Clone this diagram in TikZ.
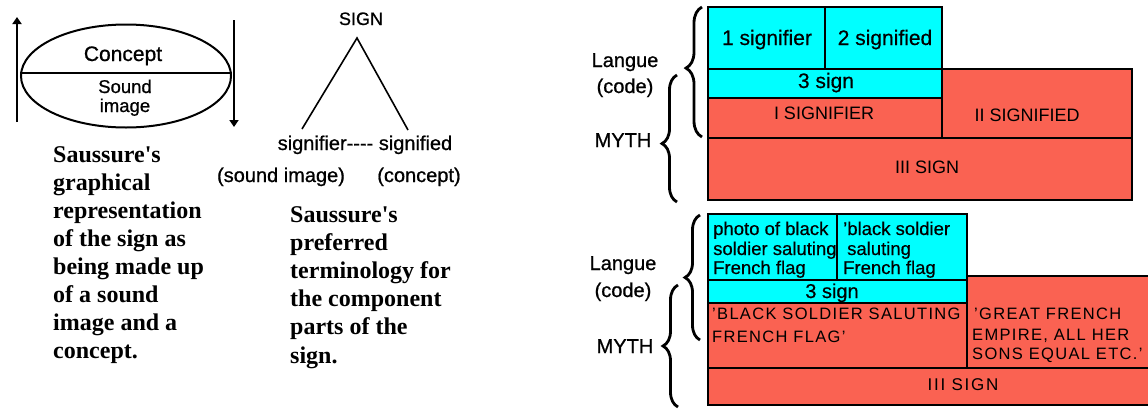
\documentclass[tikz,border=0pt]{standalone}
\usepackage{fontspec}
\setmainfont{Liberation Sans}
\newfontfamily\capfont{Liberation Serif}
\usetikzlibrary{decorations.pathreplacing,arrows.meta,shapes.geometric}
\definecolor{cy}{RGB}{0,255,255}
\definecolor{rd}{RGB}{250,98,82}
\begin{document}
\begin{tikzpicture}[x=1pt,y=-1pt,
  lbl/.style={inner sep=0pt,anchor=base,font=\fontsize{20}{22}\addfontfeature{FakeBold=0.8}\selectfont},
  lblw/.style={inner sep=0pt,anchor=base west,font=\fontsize{18.5}{20}\addfontfeature{FakeBold=0.5}\selectfont},
  uptxt/.style={inner sep=0pt,anchor=base west,font=\fontsize{16.5}{20}\addfontfeature{LetterSpace=8}\selectfont},
  captxt/.style={inner sep=0pt,anchor=base west,font=\capfont\bfseries\fontsize{24}{28}\selectfont},
  cellline/.style={draw=black,line width=2.5pt},
  arr/.style={line width=2pt,-{Triangle[width=9pt,length=7pt]}},
  brc/.style={line width=2.8pt,decorate},
]
\useasboundingbox (0,0) rectangle (1148,410);

% ---------- ellipse diagram ----------
\node[draw,ellipse,line width=2pt,minimum width=210pt,minimum height=103pt,inner sep=0pt] (ell) at (126,76) {};
\draw[line width=2pt] (ell.west |- 0,73) -- (ell.east |- 0,73);
\node[lbl,font=\fontsize{21}{22}\addfontfeature{FakeBold=0.8}\selectfont] (concept) at (123,61) {Concept};
\node[lbl,font=\fontsize{18.5}{22}\addfontfeature{FakeBold=0.8}\selectfont] (sound) at (125,93) {Sound};
\node[lbl,font=\fontsize{18.5}{22}\addfontfeature{FakeBold=0.8}\selectfont] (image) at (125,112) {image};
\coordinate (ua) at (17,122); \coordinate (ub) at (17,17);
\coordinate (da) at (234,20); \coordinate (db) at (234,127);
\draw[arr] (ua) -- (ub);
\draw[arr] (da) -- (db);

\foreach \t [count=\i] in {Saussure's,graphical,representation,of the sign as,being made up,of a sound,image and a,concept.}
  \node[captxt] (capA\i) at (53,{162+(\i-1)*28.1}) {\t};

% ---------- triangle diagram ----------
\node[lbl,font=\fontsize{18}{20}\addfontfeature{FakeBold=0.8}\selectfont] (sign) at (361,25) {SIGN};
\coordinate (apex) at (357,38);
\coordinate (lleg) at (302,129);
\coordinate (rleg) at (408,130);
\draw[line width=1.6pt] (lleg) -- (apex) -- (rleg);
\node[lbl] (sfr) at (365,150) {signifier{-}{-}{-}{-} signified};
\node[lbl] (sfr2) at (281,182) {(sound image)};
\node[lbl] (sfd2) at (419,182) {(concept)};

\foreach \t [count=\i] in {Saussure's,preferred,terminology for,the component,parts of the,sign.}
  \node[captxt] (capB\i) at (290,{222+(\i-1)*28.2}) {\t};

% ---------- top right diagram ----------
\fill[cy] (708,7) rectangle (942,98);
\fill[rd] (708,98) rectangle (942,138);
\fill[rd] (942,69) rectangle (1132,138);
\fill[rd] (708,138) rectangle (1132,200);
\draw[cellline] (708,7) rectangle (825,69);
\draw[cellline] (825,7) rectangle (942,69);
\draw[cellline] (708,69) rectangle (942,98);
\draw[cellline] (708,98) rectangle (942,138);
\draw[cellline] (942,69) rectangle (1132,138);
\draw[cellline] (708,138) rectangle (1132,200);
\node[lbl,font=\fontsize{21}{22}\addfontfeature{FakeBold=0.5}\selectfont] (t1) at (767,45) {1 signifier};
\node[lbl,font=\fontsize{21}{22}\addfontfeature{FakeBold=0.5}\selectfont] (t2) at (885,45) {2 signified};
\node[lbl,font=\fontsize{21}{22}\addfontfeature{FakeBold=0.5}\selectfont] (t3) at (826,88) {3 sign};
\node[lbl,font=\fontsize{18}{20}\selectfont] (tI) at (824,119) {I SIGNIFIER};
\node[lbl,font=\fontsize{18}{20}\selectfont] (tII) at (1027,121) {II SIGNIFIED};
\node[lbl,font=\fontsize{18}{20}\selectfont] (tIII) at (927,173) {III SIGN};

\node[lbl] (lang1) at (625,67) {Langue};
\node[lbl] (code1) at (625,93) {(code)};
\node[lbl] (myth1) at (623,147) {MYTH};
\coordinate (b1s) at (702,137); \coordinate (b1e) at (702,7);
\coordinate (b2s) at (677,202); \coordinate (b2e) at (677,75);
\draw[brc,decoration={brace,amplitude=16pt,aspect=0.53}] (b1s) -- (b1e);
\draw[brc,decoration={brace,amplitude=15pt,aspect=0.46}] (b2s) -- (b2e);

% ---------- bottom right diagram ----------
\fill[cy] (708,214) rectangle (967,303);
\fill[rd] (708,303) rectangle (967,368);
\fill[rd] (967,276) rectangle (1150,368);
\fill[rd] (708,368) rectangle (1150,405);
\draw[cellline] (708,214) rectangle (837,280);
\draw[cellline] (837,214) rectangle (967,280);
\draw[cellline] (708,280) rectangle (967,303);
\draw[cellline] (708,303) rectangle (967,368);
\draw[cellline] (967,276) rectangle (1152,368);
\draw[cellline] (708,368) rectangle (1152,405);

\node[lblw] (p1) at (713,235) {photo of black};
\node[lblw] (p2) at (713,255) {soldier saluting};
\node[lblw] (p3) at (713,274) {French flag};
\node[lblw] (q1) at (843,235) {'black soldier};
\node[lblw] (q2) at (847,255) {saluting};
\node[lblw] (q3) at (843,274) {French flag};
\node[lbl,font=\fontsize{20}{22}\addfontfeature{FakeBold=0.5}\selectfont] (s3) at (832,298) {3 sign};
\node[uptxt] (m1) at (712,319) {'BLACK SOLDIER SALUTING};
\node[uptxt] (m2) at (712,342) {FRENCH FLAG'};
\node[uptxt] (g1) at (974,319) {'GREAT FRENCH};
\node[uptxt] (g2) at (972,340) {EMPIRE, ALL HER};
\node[uptxt] (g3) at (972,359) {SONS EQUAL ETC.'};
\node[lbl,font=\fontsize{17}{20}\addfontfeature{LetterSpace=10}\selectfont] (s4) at (963,390) {III SIGN};

\node[lbl] (lang2) at (623,270) {Langue};
\node[lbl] (code2) at (623,297) {(code)};
\node[lbl] (myth2) at (625,353) {MYTH};
\coordinate (b3s) at (700,340); \coordinate (b3e) at (700,215);
\coordinate (b4s) at (678,407); \coordinate (b4e) at (678,285);
\draw[brc,decoration={brace,amplitude=15pt,aspect=0.5}] (b3s) -- (b3e);
\draw[brc,decoration={brace,amplitude=15pt,aspect=0.5}] (b4s) -- (b4e);
\end{tikzpicture}
\end{document}
